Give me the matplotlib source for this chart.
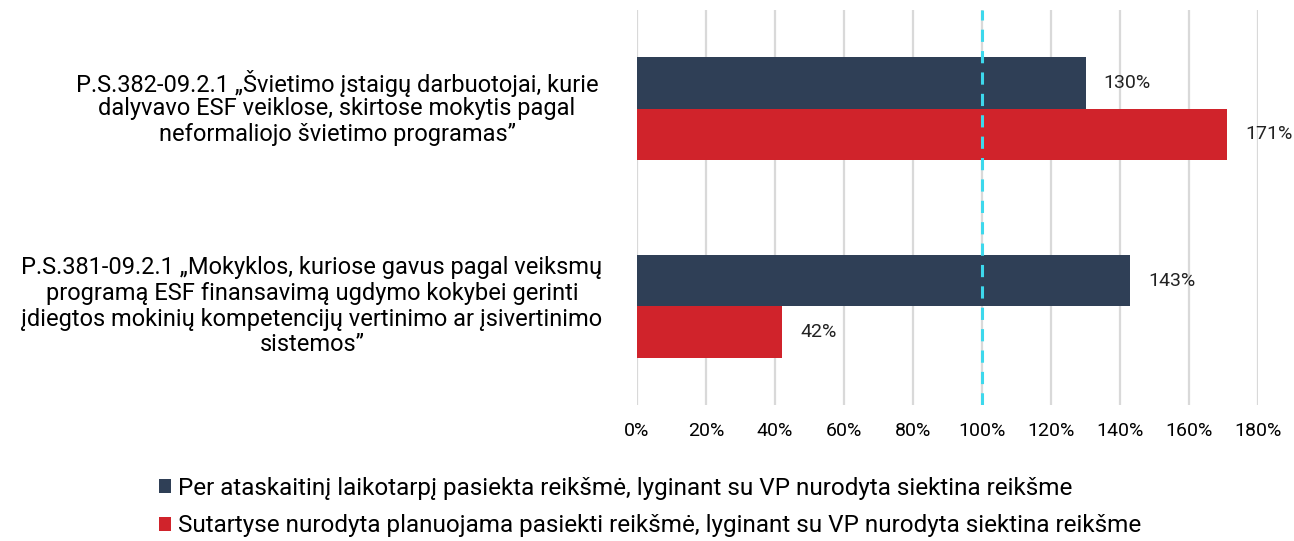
import matplotlib.pyplot as plt
import numpy as np

categories = [
    "P.S.381-09.2.1 „Mokyklos, kuriose gavus pagal veiksmų\nprogramą ESF finansavimą ugdymo kokybei gerinti\nįdiegtos mokinių kompetencijų vertinimo ar įsivertinimo\nsistemos”",
    "P.S.382-09.2.1 „Švietimo įstaigų darbuotojai, kurie\ndalyvavo ESF veiklose, skirtose mokytis pagal\nneformaliojo švietimo programas”",
]
achieved = [143, 130]
planned = [42, 171]
series_names = [
    "Per ataskaitinį laikotarpį pasiekta reikšmė, lyginant su VP nurodyta siektina reikšme",
    "Sutartyse nurodyta planuojama pasiekti reikšmė, lyginant su VP nurodyta siektina reikšme",
]
xticks = [0, 20, 40, 60, 80, 100, 120, 140, 160, 180]

plt.rcParams['font.family'] = 'Roboto'
plt.rcParams['font.size'] = 15

fig = plt.figure(figsize=(12.94, 5.41), dpi=100)
ax = fig.add_axes([0.4923, 0.2514, 0.4799, 0.7301])

y = np.arange(len(categories))
h = 0.26
dark = '#2F3F56'
red = '#D0232B'
b1 = ax.barh(y + h / 2, achieved, height=h, color=dark, label=series_names[0], zorder=3)
b2 = ax.barh(y - h / 2, planned, height=h, color=red, label=series_names[1], zorder=3)

for bars, vals in [(b1, achieved), (b2, planned)]:
    for bar, v in zip(bars, vals):
        ax.annotate(f"{v}%", (bar.get_width(), bar.get_y() + bar.get_height() / 2),
                    xytext=(13, 0), textcoords='offset points', va='center', ha='left',
                    fontsize=14, color='#222222')

ax.axvline(100, color='#3DD8EC', linestyle=(0, (4, 3)), linewidth=2.2, zorder=4)

ax.set_xlim(0, 180)
ax.set_ylim(-0.5, 1.5)
ax.set_xticks(xticks)
ax.set_xticklabels([f"{t}%" for t in xticks], fontsize=14)
ax.set_yticks([])
ax.tick_params(length=0, pad=12)

# category labels, one line at a time, centred left of the axes
label_dx = [-234, -216]
line_h = 18.4
for yi, label, dx in zip(y, categories, label_dx):
    lines = label.split('\n')
    n = len(lines)
    for j, line in enumerate(lines):
        ax.annotate(line, xy=(0, yi), xycoords=('axes fraction', 'data'),
                    xytext=(dx, ((n - 1) / 2 - j) * line_h), textcoords='offset points',
                    ha='center', va='center', fontsize=17, annotation_clip=False)

ax.grid(axis='x', color='#D9D9D9', linewidth=1.6, zorder=0)
for s in ax.spines.values():
    s.set_visible(False)

fig.legend(handles=[b1, b2], loc='upper left', bbox_to_anchor=(0.106, 0.159),
           frameon=False, handlelength=0.5, handleheight=0.5, handletextpad=0.3,
           labelspacing=0.6, fontsize=17.5)

fig.savefig('out.png', dpi=100)
